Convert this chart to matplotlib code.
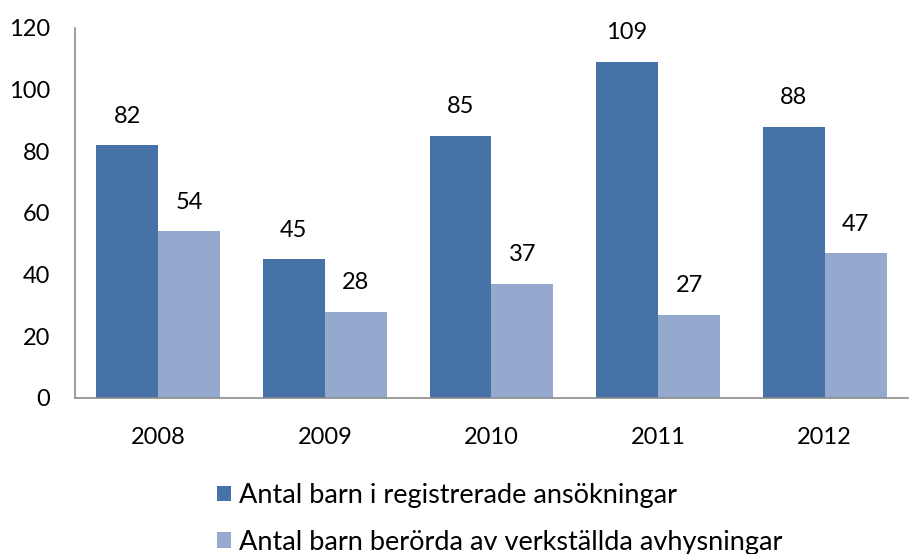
import numpy as np
from matplotlib import pyplot as plt

plt.rcParams['font.family'] = ['Lato', 'DejaVu Sans']

## data
years = ['2008', '2009', '2010', '2011', '2012']
registrerade = [82, 45, 85, 109, 88]
verkstallda = [54, 28, 37, 27, 47]
namn = ['Antal barn i registrerade ansökningar', 'Antal barn berörda av verkställda avhysningar']

fig = plt.figure(figsize=(9.12, 5.54), dpi=100)
ax = fig.add_axes([0.0822, 0.2816, 0.9134, 0.6679])

x = np.arange(len(years))
w = 0.372
b1 = ax.bar(x - w/2, registrerade, w, color='#4672a7', label=namn[0])
b2 = ax.bar(x + w/2, verkstallda, w, color='#95a9cf', label=namn[1])

for bars in (b1, b2):
    for r in bars:
        ax.text(r.get_x() + r.get_width()/2, r.get_height() + 6, str(int(r.get_height())),
                ha='center', va='bottom', fontsize=17, color='black')

ax.set_xlim(-0.5, len(years) - 0.5)
ax.set_ylim(0, 120)
ax.set_yticks(range(0, 121, 20))
ax.set_xticks(x)
ax.set_xticklabels(years)
ax.tick_params(length=0, labelsize=17, colors='black')
ax.tick_params(axis='y', pad=18)
ax.tick_params(axis='x', pad=21)
for s in ['top', 'right']:
    ax.spines[s].set_visible(False)
for s in ['left', 'bottom']:
    ax.spines[s].set_color('#8c8c8c')
    ax.spines[s].set_linewidth(1.2)

fig.legend(handles=[b1, b2], loc='upper left', bbox_to_anchor=(0.238, 0.128), ncol=1,
           frameon=False, fontsize=19.5, handlelength=0.5, handleheight=0.5,
           handletextpad=0.3, labelspacing=0.8, borderaxespad=0, borderpad=0)

fig.savefig('out.png', dpi=100)
